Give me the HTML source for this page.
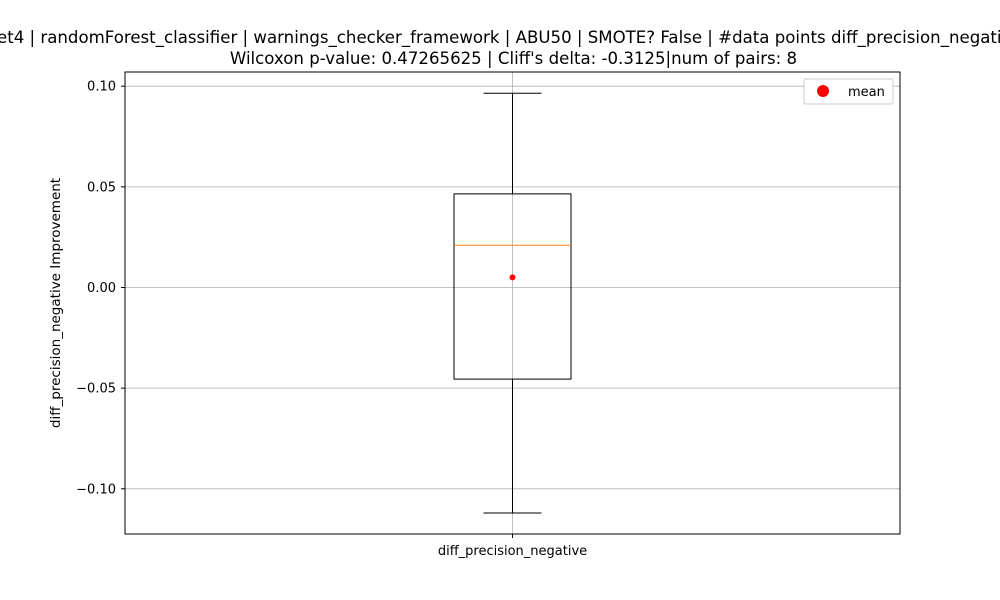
<!DOCTYPE html>
<html><head><meta charset="utf-8"><style>
body{margin:0;background:#fff;}
svg{display:block;font-family:"DejaVu Sans","Liberation Sans",sans-serif;}
</style></head><body>
<svg id="chart" width="1000" height="600" viewBox="0 0 1000 600">
<rect width="1000" height="600" fill="#fff"/>
<text x="-3" y="43" font-size="16.6">et4 | randomForest_classifier | warnings_checker_framework | ABU50 | SMOTE? False | #data points diff_precision_negative</text>
<text x="513.5" y="64" font-size="16.6" text-anchor="middle">Wilcoxon p-value: 0.47265625 | Cliff's delta: -0.3125|num of pairs: 8</text>
<g id="grid"></g>
<g id="marks"></g>
<rect x="125" y="72" width="775" height="462" fill="none" stroke="#000" stroke-width="1"/>
<text transform="translate(60,303) rotate(-90)" font-size="13.5" text-anchor="middle">diff_precision_negative Improvement</text>
<g>
<rect x="804" y="79" width="89" height="25" fill="#fff" stroke="#ccc" rx="2"/>
<circle cx="823" cy="91" r="6" fill="red"/>
<text x="848" y="96" font-size="13">mean</text>
</g>
</svg>
<script>
const categories = ["diff_precision_negative"];
const whiskerLow = [-0.112];
const q1 = [-0.0455];
const median = [0.021];
const q3 = [0.0465];
const whiskerHigh = [0.0965];
const means = [0.005];
const yTicks = [0.10, 0.05, 0.00, -0.05, -0.10];
const yTickLabels = ["0.10", "0.05", "0.00", "\u22120.05", "\u22120.10"];

const NS = "http://www.w3.org/2000/svg";
const y = v => 287.5 - v * 2013;
const x = i => 125 + 775 * (i + 0.5) / categories.length;
function mk(tag, attrs, parent, text) {
  const e = document.createElementNS(NS, tag);
  for (const k in attrs) e.setAttribute(k, attrs[k]);
  if (text !== undefined) e.textContent = text;
  parent.appendChild(e);
  return e;
}
const grid = document.getElementById("grid");
const marks = document.getElementById("marks");
yTicks.forEach((t, i) => {
  const gl = mk("line", {x1: 125, x2: 900, y1: y(t), y2: y(t), stroke: "#b0b0b0", "stroke-width": 0.8}, grid);
  
  
  const tk = mk("line", {x1: 121, x2: 125, y1: y(t), y2: y(t), stroke: "#000"}, grid);
  
  
  const lb = mk("text", {x: 116, y: y(t) + 4.5, "font-size": 13, "text-anchor": "end"}, grid, yTickLabels[i]);
  
  
});
categories.forEach((c, i) => {
  const cx = x(i);
  const vg = mk("line", {x1: cx, x2: cx, y1: 72, y2: 534, stroke: "#b0b0b0", "stroke-width": 0.8}, grid);
  
  
  const xt = mk("line", {x1: cx, x2: cx, y1: 534, y2: 538, stroke: "#000"}, grid);
  
  
  const xl = mk("text", {x: cx, y: 555, "font-size": 13, "text-anchor": "middle"}, grid, c);
  
  
  const hw = 58.5, cw = 29;
  const w1 = mk("line", {x1: cx, x2: cx, y1: y(q3[i]), y2: y(whiskerHigh[i]), stroke: "#000"}, marks);
  
  
  const w2 = mk("line", {x1: cx, x2: cx, y1: y(q1[i]), y2: y(whiskerLow[i]), stroke: "#000"}, marks);
  
  
  const c1 = mk("line", {x1: cx - cw, x2: cx + cw, y1: y(whiskerHigh[i]), y2: y(whiskerHigh[i]), stroke: "#000"}, marks);
  
  
  const c2 = mk("line", {x1: cx - cw, x2: cx + cw, y1: y(whiskerLow[i]), y2: y(whiskerLow[i]), stroke: "#000"}, marks);
  
  
  const bx = mk("rect", {x: cx - hw, y: y(q3[i]), width: 2 * hw, height: y(q1[i]) - y(q3[i]), fill: "none", stroke: "#000"}, marks);
  
  
  const md = mk("line", {x1: cx - hw, x2: cx + hw, y1: y(median[i]), y2: y(median[i]), stroke: "#ff7f0e"}, marks);
  
  
  const mn = mk("circle", {cx: cx, cy: y(means[i]), r: 3, fill: "red"}, marks);
  
  
});
</script>
</body></html>
